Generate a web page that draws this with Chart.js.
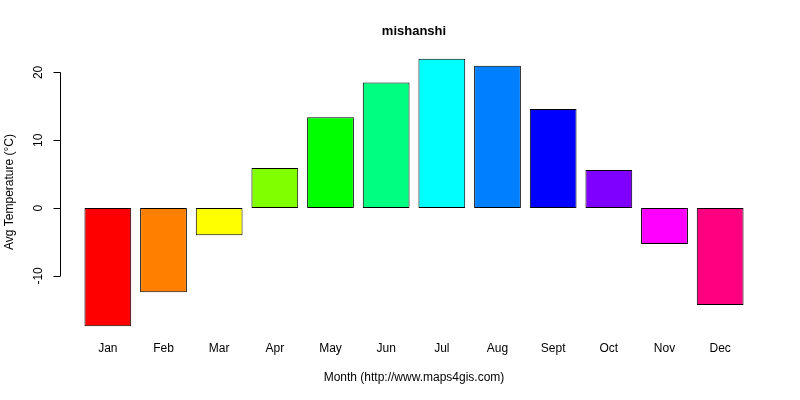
<!DOCTYPE html>
<html><head><meta charset="utf-8">
<script src="https://cdn.jsdelivr.net/npm/chart.js@4"></script>
<style>body{margin:0;background:#fff}#wrap{width:800px;height:400px}</style>
</head><body><div id="wrap"><canvas id="c"></canvas></div>
<script>
const months = ['Jan','Feb','Mar','Apr','May','Jun','Jul','Aug','Sept','Oct','Nov','Dec'];
const temps = [-17.4,-12.4,-4.0,5.9,13.4,18.5,22.0,21.0,14.6,5.6,-5.3,-14.3];
const barColors = ['#FF0000','#FF8000','#FFFF00','#80FF00','#00FF00','#00FF80','#00FFFF','#0080FF','#0000FF','#8000FF','#FF00FF','#FF0080'];
const yTicks = [-10,0,10,20];
const FONT = '12px "Liberation Sans", Arial, sans-serif';

// draw R-style axes, labels, title
const rAxes = {
  id:'rAxes',
  afterDraw(chart){
    const c = chart.ctx, y = chart.scales.y, x = chart.scales.x;
    c.save();
    c.strokeStyle = '#000'; c.fillStyle = '#000'; c.lineWidth = 1;
    const ax = 60.5;
    c.beginPath();
    c.moveTo(ax, y.getPixelForValue(yTicks[0]));
    c.lineTo(ax, y.getPixelForValue(yTicks[yTicks.length-1]));
    yTicks.forEach(v=>{
      const py = Math.round(y.getPixelForValue(v))+0.5;
      c.moveTo(ax, py); c.lineTo(ax-7, py);
    });
    c.stroke();
    c.font = FONT; c.textAlign = 'center'; c.textBaseline = 'middle';
    yTicks.forEach(v=>{
      c.save(); c.translate(39, y.getPixelForValue(v)); c.rotate(-Math.PI/2);
      c.fillText(String(v), 0, 0); c.restore();
    });
    months.forEach((m,i)=> c.fillText(m, x.getPixelForValue(i), 349));
    c.fillText('Month (http://www.maps4gis.com)', 414, 378);
    c.save(); c.translate(10, 192); c.rotate(-Math.PI/2);
    c.fillText('Avg Temperature (°C)', 0, 0); c.restore();
    c.font = 'bold 13px "Liberation Sans", Arial, sans-serif';
    c.fillText('mishanshi', 414, 31);
    c.restore();
  }
};

new Chart(document.getElementById('c'), {
  type:'bar',
  data:{ labels: months, datasets:[{ data: temps, backgroundColor: barColors, borderColor:'#000', borderWidth:1, borderSkipped:false, barPercentage:0.84, categoryPercentage:1 }] },
  options:{
    responsive:true, maintainAspectRatio:false, animation:false,
    layout:{ padding:{ left:80, right:52, top:48, bottom:63 } },
    plugins:{ legend:{display:false}, tooltip:{enabled:false} },
    scales:{
      x:{ display:false },
      y:{ display:false, min:-19, max:23.6 }
    }
  },
  plugins:[rAxes]
});
</script></body></html>
